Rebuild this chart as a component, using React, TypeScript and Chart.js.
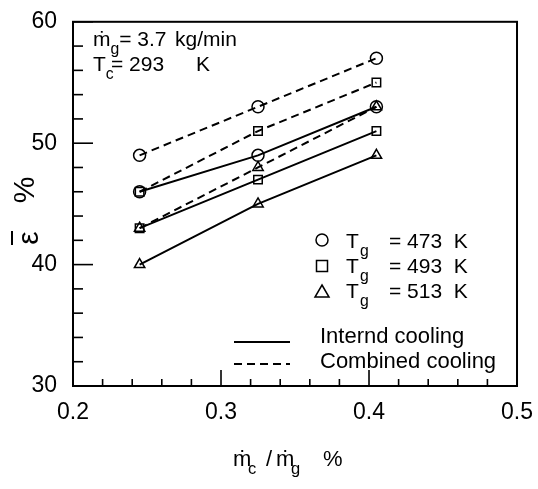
import React, { useEffect, useRef } from "react";
import { Chart, registerables } from "chart.js";

Chart.register(...registerables);

const xValues = [0.245, 0.325, 0.405];
const internal473 = [46, 49, 53];
const internal493 = [43, 47, 51];
const internal513 = [40, 45, 49];
const combined473 = [49, 53, 57];
const combined493 = [46, 51, 55];
const combined513 = [43, 48, 53];
const xTickLabels = ["0.2", "0.3", "0.4", "0.5"];
const yTickLabels = ["30", "40", "50", "60"];

const FONT = "'Liberation Sans', Arial, sans-serif";

type Seg = { t: string; sub?: boolean; x?: number };

function drawSegs(ctx: CanvasRenderingContext2D, segs: Seg[], x: number, y: number, size: number) {
  let cx = x;
  for (const s of segs) {
    if (s.x !== undefined) cx = s.x;
    const fs = s.sub ? size * 0.75 : size;
    ctx.font = `${fs}px ${FONT}`;
    ctx.fillText(s.t, cx, s.sub ? y + size * 0.38 : y);
    cx += ctx.measureText(s.t).width;
  }
  return cx;
}

const decor = {
  id: "decor",
  afterDraw(chart: any) {
    const ctx: CanvasRenderingContext2D = chart.ctx;
    const { left, right, top, bottom } = chart.chartArea;
    const xs = chart.scales.x;
    const ys = chart.scales.y;
    ctx.save();
    ctx.strokeStyle = "#000";
    ctx.fillStyle = "#000";
    ctx.lineWidth = 2;
    ctx.strokeRect(left, top, right - left, bottom - top);
    // inward ticks
    ctx.lineWidth = 1.6;
    for (let v = 30; v <= 60; v += 2) {
      const py = ys.getPixelForValue(v);
      const major = v % 10 === 0;
      ctx.beginPath();
      ctx.moveTo(left, py);
      ctx.lineTo(left + (major ? 20 : 10), py);
      ctx.stroke();
    }
    for (let i = 0; i <= 15; i++) {
      const v = 0.2 + i * 0.02;
      const px = xs.getPixelForValue(v);
      const major = i % 5 === 0;
      ctx.beginPath();
      ctx.moveTo(px, bottom);
      ctx.lineTo(px, bottom - (major ? 16 : 7));
      ctx.stroke();
    }
    ctx.textBaseline = "alphabetic";
    ctx.textAlign = "left";
    // top-left annotation
    drawSegs(ctx, [{ t: "ṁ" }, { t: "g", sub: true }, { t: "= 3.7" }, { t: "kg/min", x: 175 }], 93, 46, 21);
    drawSegs(ctx, [{ t: "T" }, { t: "c", sub: true }, { t: "= 293", x: 111 }, { t: "K", x: 196 }], 93, 71, 21);
    // legend markers
    ctx.lineWidth = 1.5;
    ctx.beginPath();
    ctx.arc(322, 240, 6, 0, Math.PI * 2);
    ctx.stroke();
    ctx.strokeRect(316.5, 260.5, 11, 11);
    ctx.beginPath();
    ctx.moveTo(322, 285);
    ctx.lineTo(329, 297);
    ctx.lineTo(315, 297);
    ctx.closePath();
    ctx.stroke();
    const rows = ["473", "493", "513"];
    rows.forEach((r, i) => {
      const by = 248 + i * 25;
      drawSegs(ctx, [{ t: "T", x: 346 }, { t: "g", sub: true, x: 360 }, { t: `= ${r}  K`, x: 389 }], 346, by, 21);
    });
    ctx.lineWidth = 2;
    ctx.beginPath();
    ctx.moveTo(234, 342);
    ctx.lineTo(290, 342);
    ctx.stroke();
    ctx.setLineDash([8, 5]);
    ctx.beginPath();
    ctx.moveTo(234, 364);
    ctx.lineTo(290, 364);
    ctx.stroke();
    ctx.setLineDash([]);
    ctx.font = `22px ${FONT}`;
    ctx.fillText("Internd cooling", 320, 343);
    ctx.fillText("Combined cooling", 320, 368);
    // x axis title
    drawSegs(
      ctx,
      [
        { t: "ṁ", x: 233 },
        { t: "c", sub: true, x: 248 },
        { t: "/", x: 266 },
        { t: "ṁ", x: 276 },
        { t: "g", sub: true, x: 291 },
        { t: "%", x: 323 },
      ],
      233,
      466,
      22
    );
    // y axis title
    ctx.save();
    ctx.translate(30, 215);
    ctx.rotate(-Math.PI / 2);
    ctx.textAlign = "center";
    ctx.textBaseline = "middle";
    ctx.font = `30px ${FONT}`;
    ctx.fillText("ε", -23, 0);
    ctx.fillText("%", 25, -4);
    ctx.lineWidth = 2;
    ctx.beginPath();
    ctx.moveTo(-30, -18);
    ctx.lineTo(-16, -18);
    ctx.stroke();
    ctx.restore();
    ctx.restore();
  },
};

function mk(vals: number[], style: string, dashed: boolean) {
  return {
    data: xValues.map((x, i) => ({ x, y: vals[i] })),
    showLine: true,
    borderColor: "#000",
    backgroundColor: "#fff",
    borderWidth: 2,
    borderDash: dashed ? [8, 5] : [],
    pointStyle: style,
    pointRadius: 6,
    pointBorderWidth: 1.5,
    pointBackgroundColor: "rgba(255,255,255,0)",
    pointBorderColor: "#000",
  };
}

export default function App() {
  const ref = useRef<HTMLCanvasElement>(null);
  useEffect(() => {
    const chart = new Chart(ref.current!, {
      type: "scatter",
      data: {
        datasets: [
          mk(combined473, "circle", true),
          mk(combined493, "rect", true),
          mk(combined513, "triangle", true),
          mk(internal473, "circle", false),
          mk(internal493, "rect", false),
          mk(internal513, "triangle", false),
        ] as any,
      },
      options: {
        animation: false,
        responsive: false,
        devicePixelRatio: 1,
        layout: { padding: { left: 0, top: 20, right: 18, bottom: 0 } },
        plugins: { legend: { display: false }, tooltip: { enabled: false } },
        scales: {
          x: {
            type: "linear",
            min: 0.2,
            max: 0.5,
            grid: { display: false },
            border: { display: false },
            afterFit: (s: any) => { s.height = 103; },
            ticks: {
              stepSize: 0.1,
              autoSkip: false,
              maxRotation: 0,
              padding: 5,
              color: "#000",
              font: { family: FONT, size: 23 },
              callback: (v: any) => {
                const idx = Math.round((Number(v) - 0.2) * 10);
                return xTickLabels[idx] ?? "";
              },
            },
          },
          y: {
            type: "linear",
            min: 30,
            max: 60,
            grid: { display: false },
            border: { display: false },
            afterFit: (s: any) => { s.width = 73; },
            ticks: {
              stepSize: 10,
              padding: 8,
              color: "#000",
              font: { family: FONT, size: 23 },
              callback: (v: any) => {
                const idx = Math.round((Number(v) - 30) / 10);
                return yTickLabels[idx] ?? "";
              },
            },
          },
        },
      },
      plugins: [decor],
    });
    return () => chart.destroy();
  }, []);
  return (
    <div style={{ position: "absolute", left: 0, top: 0, width: 538, height: 489, background: "#fff" }}>
      <canvas ref={ref} width={538} height={489} style={{ width: 538, height: 489 }} />
    </div>
  );
}
